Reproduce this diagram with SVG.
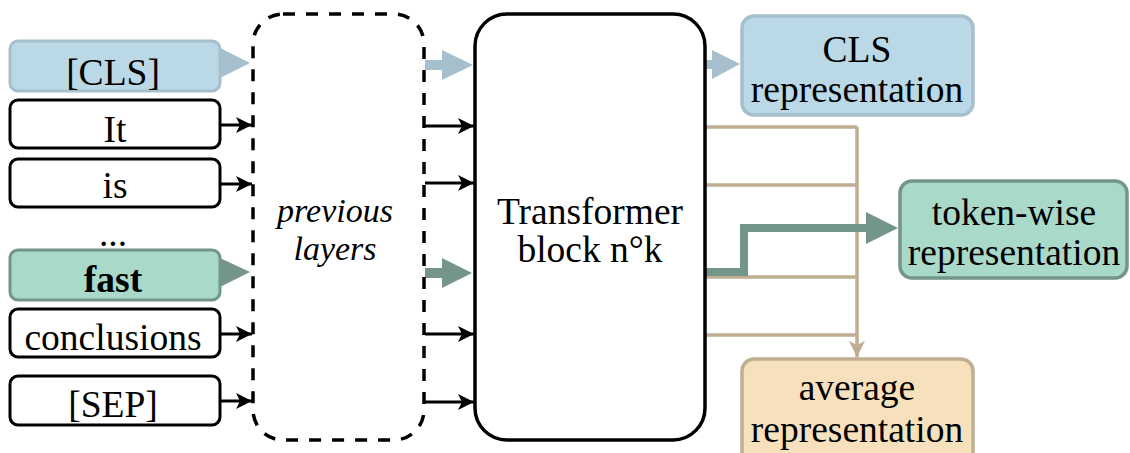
<svg xmlns="http://www.w3.org/2000/svg" width="1130" height="453" viewBox="0 0 1130 453">
<defs>
<style>
.t{font-family:"Liberation Serif","Times New Roman",serif;font-size:37.5px;fill:#000;text-anchor:middle}
.it{font-style:italic;font-size:34px}
.in{fill:#fff;stroke:#000;stroke-width:3}
.blk{stroke:#000;stroke-width:3;fill:none}
.beige{stroke:#bfae92;stroke-width:3.5;fill:none}
</style>
<marker id="ah" markerWidth="18" markerHeight="16" refX="16" refY="8" orient="auto" markerUnits="userSpaceOnUse">
<path d="M0,0 L16,8 L0,16 L4,8 Z" fill="#000"/>
</marker>
<marker id="ahb" markerWidth="18" markerHeight="16" refX="16" refY="8" orient="auto" markerUnits="userSpaceOnUse">
<path d="M0,0 L16,8 L0,16 L4,8 Z" fill="#bfae92"/>
</marker>
</defs>
<rect width="1130" height="453" fill="#fff"/>

<g id="connectors">
<path class="beige" d="M705,127 H857 M705,185 H857 M705,277 H857 M705,335 H857"/>
<path class="beige" d="M857,127 V357" marker-end="url(#ahb)"/>
<line class="blk" x1="220" y1="125" x2="252" y2="125" marker-end="url(#ah)"/>
<line class="blk" x1="220" y1="184" x2="252" y2="184" marker-end="url(#ah)"/>
<line class="blk" x1="220" y1="334" x2="252" y2="334" marker-end="url(#ah)"/>
<line class="blk" x1="220" y1="401" x2="252" y2="401" marker-end="url(#ah)"/>
<line class="blk" x1="425" y1="126" x2="474" y2="126" marker-end="url(#ah)"/>
<line class="blk" x1="425" y1="183" x2="474" y2="183" marker-end="url(#ah)"/>
<line class="blk" x1="425" y1="334" x2="474" y2="334" marker-end="url(#ah)"/>
<line class="blk" x1="425" y1="402" x2="474" y2="402" marker-end="url(#ah)"/>
<polygon points="220,48 250,63 220,78" fill="#a5bfcc"/>
<polygon points="425,60 442,60 442,50 473,65 442,80 442,70 425,70" fill="#a5bfcc"/>
<polygon points="706,60 712,60 712,50 740,64 712,79 712,69 706,69" fill="#a5bfcc"/>
<polygon points="220,258 250,272 220,287" fill="#73958a"/>
<polygon points="425,268 442,268 442,258 472,273 442,288 442,278 425,278" fill="#73958a"/>
<polyline points="705,272 744,272 744,228 872,228" fill="none" stroke="#73958a" stroke-width="8"/>
<polygon points="866,212 898,228 866,244" fill="#73958a"/>
</g>

<g id="in-cls"><rect class="in" x="10" y="41" width="210" height="50" rx="8" style="fill:#bad8e6;stroke:#a5bfcc"/><text class="t" x="113" y="85">[CLS]</text></g>
<g id="in-it"><rect class="in" x="10" y="100" width="210" height="48" rx="8"/><text class="t" x="115" y="142">It</text></g>
<g id="in-is"><rect class="in" x="10" y="159" width="210" height="48" rx="8"/><text class="t" x="115" y="198">is</text></g>
<g id="in-dots"><text class="t" x="113" y="246">...</text></g>
<g id="in-fast"><rect class="in" x="10" y="250" width="210" height="50" rx="8" style="fill:#a9d9c9;stroke:#73958a"/><text class="t" x="113" y="292" font-weight="bold">fast</text></g>
<g id="in-conclusions"><rect class="in" x="10" y="309" width="210" height="48" rx="8"/><text class="t" x="113" y="350">conclusions</text></g>
<g id="in-sep"><rect class="in" x="10" y="376" width="210" height="49" rx="8"/><text class="t" x="113" y="417">[SEP]</text></g>

<g id="previous">
<rect x="253" y="14" width="171" height="426" rx="30" fill="none" stroke="#000" stroke-width="3.5" stroke-dasharray="12 11"/>
<text class="t it" x="335" y="222">previous</text>
<text class="t it" x="335" y="260">layers</text>
</g>

<g id="transformer">
<rect x="475" y="14" width="230" height="426" rx="32" fill="#fff" stroke="#000" stroke-width="3.5"/>
<text class="t" x="590" y="224">Transformer</text>
<text class="t" x="590" y="262">block n°k</text>
</g>

<g id="cls-rep">
<rect x="742" y="16" width="231" height="99" rx="12" fill="#bad8e6" stroke="#a5bfcc" stroke-width="3.5"/>
<text class="t" x="857" y="62">CLS</text>
<text class="t" x="857" y="102">representation</text>
</g>

<g id="token-rep">
<rect x="900" y="181" width="227" height="97" rx="12" fill="#a9d9c9" stroke="#73958a" stroke-width="3.5"/>
<text class="t" x="1014" y="225">token-wise</text>
<text class="t" x="1014" y="265">representation</text>
</g>

<g id="avg-rep">
<rect x="742" y="359" width="231" height="110" rx="12" fill="#f7e1bc" stroke="#bfae92" stroke-width="3.5"/>
<text class="t" x="857" y="400">average</text>
<text class="t" x="857" y="442">representation</text>
</g>
</svg>
